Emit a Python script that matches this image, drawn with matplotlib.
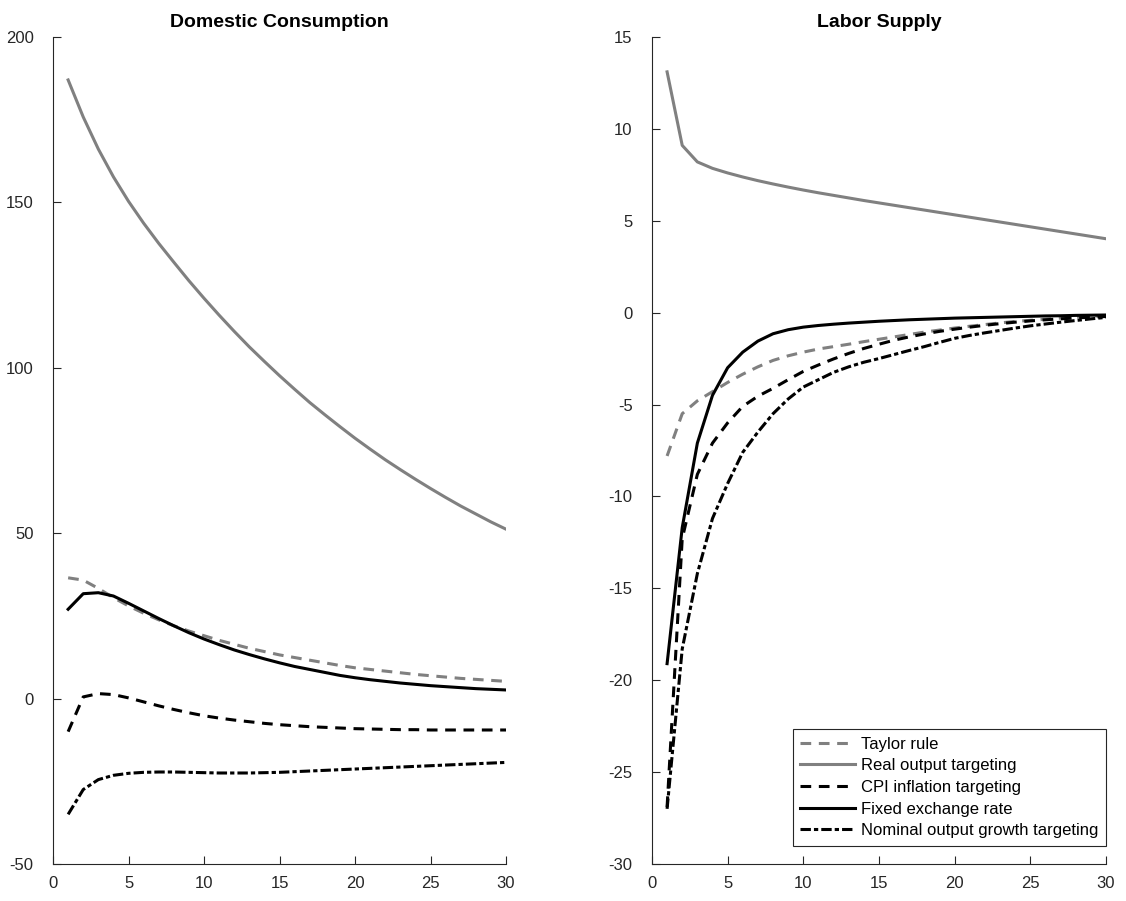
import numpy as np
import matplotlib
matplotlib.use("Agg")
import matplotlib.pyplot as plt

plt.rcParams["font.family"] = ["Liberation Sans", "DejaVu Sans"]
plt.rcParams["axes.unicode_minus"] = False

periods = np.arange(1, 31)
labels = ["Taylor rule", "Real output targeting", "CPI inflation targeting",
          "Fixed exchange rate", "Nominal output growth targeting"]

# Domestic Consumption
cons_taylor = [36.5, 35.8, 33.3, 30.5, 28.0, 25.8, 23.8, 22.0, 20.4, 19.0,
               17.6, 16.4, 15.2, 14.2, 13.2, 12.4, 11.6, 10.8, 10.0, 9.3,
               8.8, 8.3, 7.8, 7.3, 6.9, 6.5, 6.1, 5.8, 5.5, 5.2]
cons_real = [187.0, 175.8, 166.1, 157.7, 150.3, 143.7, 137.6, 131.9, 126.3, 121.0,
             115.9, 111.0, 106.3, 101.9, 97.6, 93.5, 89.5, 85.8, 82.2, 78.7,
             75.4, 72.2, 69.2, 66.3, 63.5, 60.8, 58.2, 55.8, 53.4, 51.2]
cons_cpi = [-10.0, 0.5, 1.5, 1.2, 0.2, -1.0, -2.2, -3.3, -4.3, -5.2,
            -5.9, -6.5, -7.0, -7.5, -7.9, -8.2, -8.5, -8.7, -8.9, -9.1,
            -9.2, -9.3, -9.4, -9.4, -9.5, -9.5, -9.5, -9.5, -9.5, -9.5]
cons_fixed = [27.0, 31.7, 32.0, 31.0, 28.8, 26.5, 24.2, 22.0, 19.9, 18.0,
              16.3, 14.7, 13.3, 12.0, 10.8, 9.7, 8.8, 7.9, 7.0, 6.3,
              5.7, 5.2, 4.7, 4.3, 3.9, 3.6, 3.3, 3.0, 2.8, 2.6]
cons_nominal = [-35.0, -27.5, -24.5, -23.2, -22.6, -22.3, -22.2, -22.2, -22.3, -22.4,
                -22.5, -22.5, -22.5, -22.4, -22.3, -22.1, -21.9, -21.7, -21.5, -21.3,
                -21.1, -20.9, -20.7, -20.5, -20.3, -20.1, -19.9, -19.7, -19.5, -19.3]

# Labor Supply
labor_taylor = [-7.8, -5.5, -4.8, -4.3, -3.8, -3.35, -2.95, -2.6, -2.35, -2.15,
                -1.98, -1.85, -1.72, -1.58, -1.45, -1.32, -1.19, -1.06, -0.95, -0.84,
                -0.74, -0.65, -0.56, -0.48, -0.42, -0.36, -0.30, -0.25, -0.20, -0.16]
labor_real = [13.1, 9.1, 8.2, 7.85, 7.6, 7.38, 7.18, 7.0, 6.83, 6.67,
              6.52, 6.38, 6.24, 6.1, 5.97, 5.84, 5.71, 5.58, 5.45, 5.32,
              5.19, 5.06, 4.93, 4.8, 4.67, 4.54, 4.41, 4.28, 4.15, 4.02]
labor_cpi = [-26.9, -12.3, -8.8, -7.1, -6.0, -5.1, -4.55, -4.12, -3.65, -3.2,
             -2.85, -2.52, -2.22, -1.95, -1.72, -1.5, -1.32, -1.16, -1.02, -0.9,
             -0.79, -0.69, -0.6, -0.52, -0.45, -0.39, -0.34, -0.29, -0.25, -0.21]
labor_fixed = [-19.1, -11.7, -7.1, -4.5, -3.0, -2.15, -1.55, -1.15, -0.93, -0.79,
               -0.7, -0.63, -0.57, -0.52, -0.47, -0.43, -0.39, -0.36, -0.33, -0.3,
               -0.28, -0.26, -0.24, -0.22, -0.2, -0.18, -0.17, -0.15, -0.14, -0.13]
labor_nominal = [-27.0, -18.3, -14.2, -11.2, -9.3, -7.6, -6.5, -5.5, -4.7, -4.05,
                 -3.65, -3.25, -2.95, -2.7, -2.5, -2.28, -2.06, -1.85, -1.62, -1.4,
                 -1.24, -1.1, -0.97, -0.84, -0.72, -0.62, -0.52, -0.43, -0.34, -0.26]

GRAY = "#808080"
STYLES = [
    dict(color=GRAY, linestyle=(0, (3.5, 2.5))),
    dict(color=GRAY, linestyle="-"),
    dict(color="black", linestyle=(0, (3.5, 2.5))),
    dict(color="black", linestyle="-"),
    dict(color="black", linestyle=(0, (3.4, 1.0, 1.4, 1.0))),
]
AX_COLOR = "#262626"


def draw_panel(ax, series, title, ylim, yticks):
    for s, lab, st in zip(series, labels, STYLES):
        ax.plot(periods, s, lw=2.2, label=lab, **st)
    ax.set_xlim(0, 30)
    ax.set_ylim(*ylim)
    ax.set_xticks(range(0, 31, 5))
    ax.set_yticks(yticks)
    ax.set_title(title, fontsize=14, fontweight="bold", pad=7)
    ax.spines[["top", "right"]].set_visible(False)
    for sp in ("left", "bottom"):
        ax.spines[sp].set_color(AX_COLOR)
        ax.spines[sp].set_linewidth(0.8)
    ax.tick_params(direction="in", length=6, width=0.8, colors=AX_COLOR,
                   labelsize=12, labelcolor=AX_COLOR)
    ax.tick_params(axis="y", pad=14)
    ax.tick_params(axis="x", pad=9)


fig = plt.figure(figsize=(11.26, 9.01), dpi=100)
ax1 = fig.add_axes([0.0471, 0.0411, 0.4023, 0.9179])
ax2 = fig.add_axes([0.579, 0.0411, 0.4032, 0.9179])

draw_panel(ax1, [cons_taylor, cons_real, cons_cpi, cons_fixed, cons_nominal],
           "Domestic Consumption", (-50, 200), range(-50, 201, 50))
draw_panel(ax2, [labor_taylor, labor_real, labor_cpi, labor_fixed, labor_nominal],
           "Labor Supply", (-30, 15), range(-30, 16, 5))

leg = ax2.legend(loc="lower right", bbox_to_anchor=(1.0, 0.022), borderaxespad=0,
                 fontsize=12, frameon=True, fancybox=False, framealpha=1,
                 edgecolor=AX_COLOR, handlelength=3.3, handletextpad=0.35,
                 labelspacing=0.4, borderpad=0.45)
leg.get_frame().set_linewidth(0.8)

fig.savefig("out.png", dpi=100)
